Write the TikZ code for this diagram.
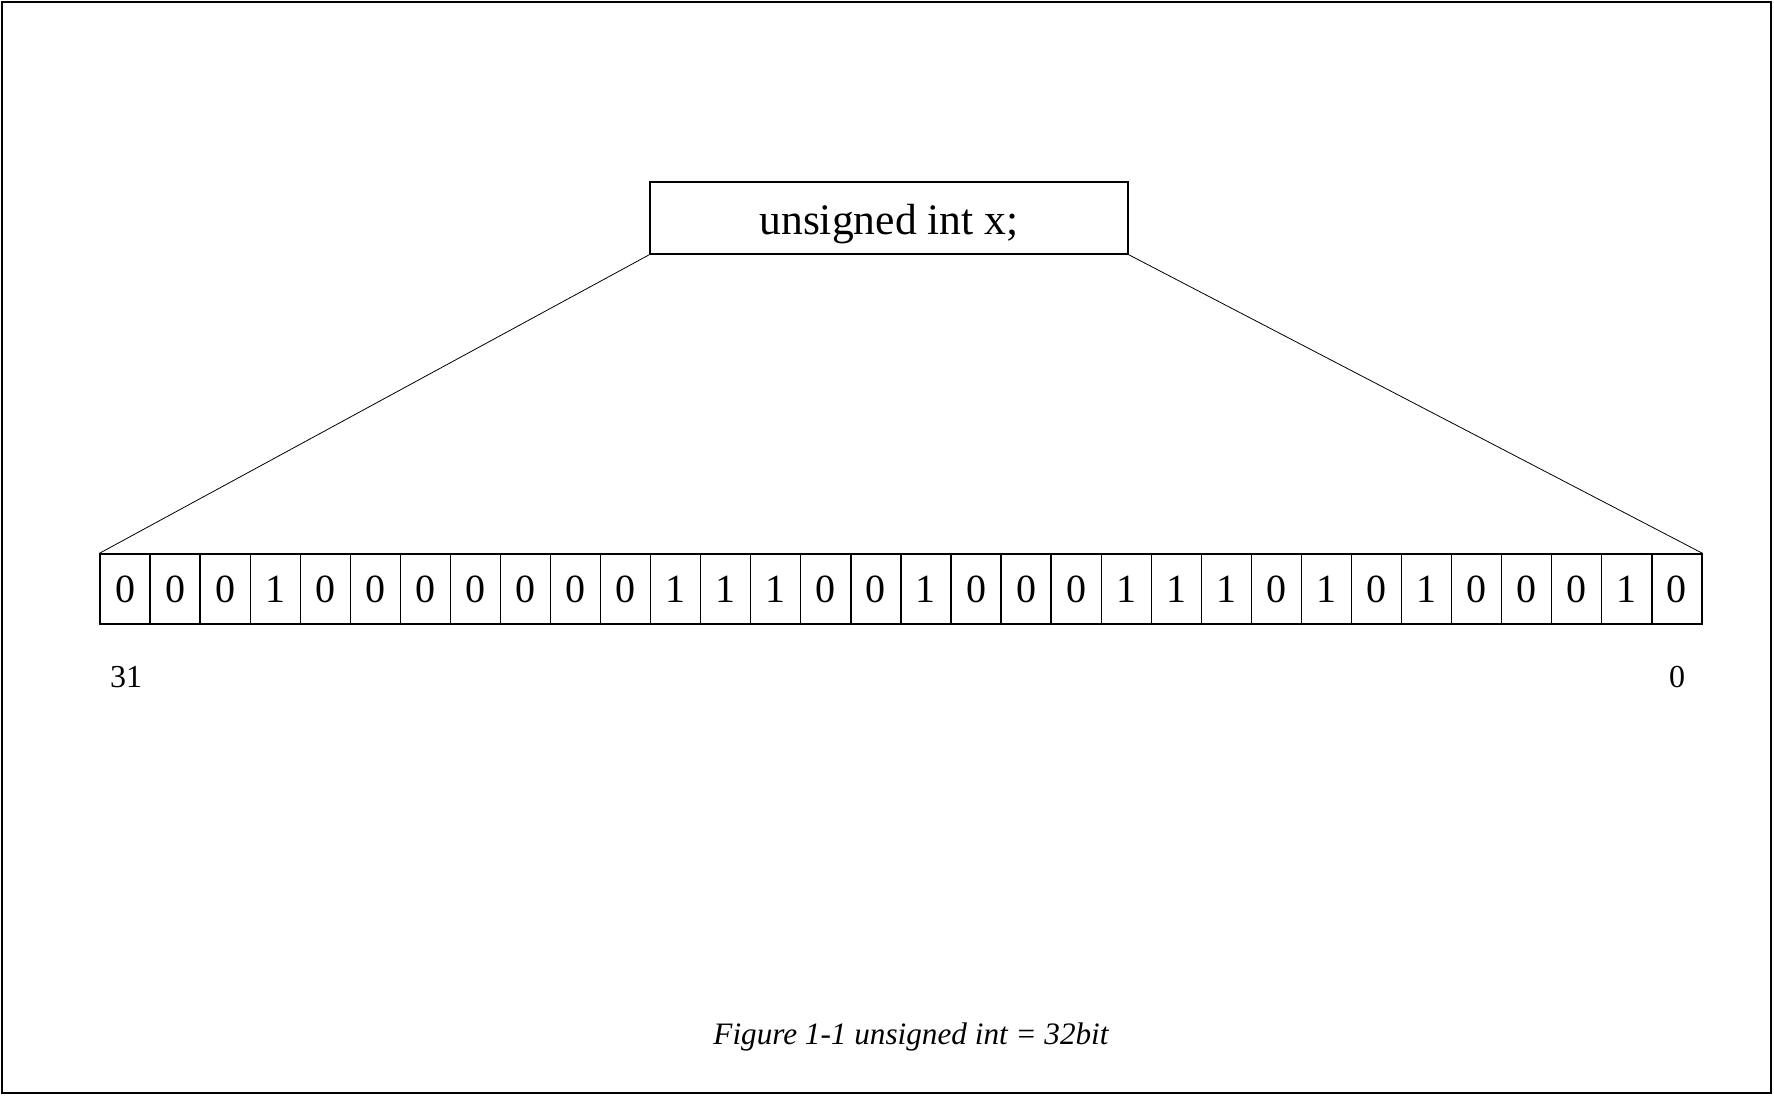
\documentclass[tikz,border=0pt]{standalone}
\usepackage{fontspec}
\setmainfont{Liberation Serif}
\begin{document}
\begin{tikzpicture}[x=0.5pt,y=-0.5pt,
  framestyle/.style={line width=1.25pt},
  declbox/.style={draw,line width=0.75pt,minimum width=239pt,minimum height=36pt,inner sep=0pt},
  decltxt/.style={font=\fontsize{21.8}{26}\selectfont,inner sep=0pt,anchor=base},
  cell/.style={draw,line width=0.65pt,minimum width=25.03pt,minimum height=35pt,inner sep=0pt,font=\fontsize{20}{24}\selectfont},
  idx/.style={font=\fontsize{16}{19}\selectfont},
  captext/.style={font=\fontsize{15.6}{19}\selectfont\itshape,inner sep=0pt,anchor=base},
  fan/.style={line width=0.4pt}]
\useasboundingbox (0,0) rectangle (1774,1096);
\draw[framestyle] (2,2) rectangle (1771,1093);
\node[declbox] (decl) at (889,218) {};
\node[decltxt] (decltext) at (889,235) {unsigned int x;};
\foreach \b [count=\i] in {0,0,0,1,0,0,0,0,0,0,0,1,1,1,0,0,1,0,0,0,1,1,1,0,1,0,1,0,0,0,1,0}{
  \node[cell] (c\i) at ({100+50.06*(\i-1)+25.03},589) {\b};
}
\node[idx] (l31) at (126,677) {31};
\node[idx] (l0) at (1677,677) {0};
\draw[fan] (decl.south west) -- (c1.north west);
\draw[fan] (decl.south east) -- (c32.north east);
\node[captext] (caption) at (911,1044) {Figure 1-1 unsigned int = 32bit};
\end{tikzpicture}
\end{document}
